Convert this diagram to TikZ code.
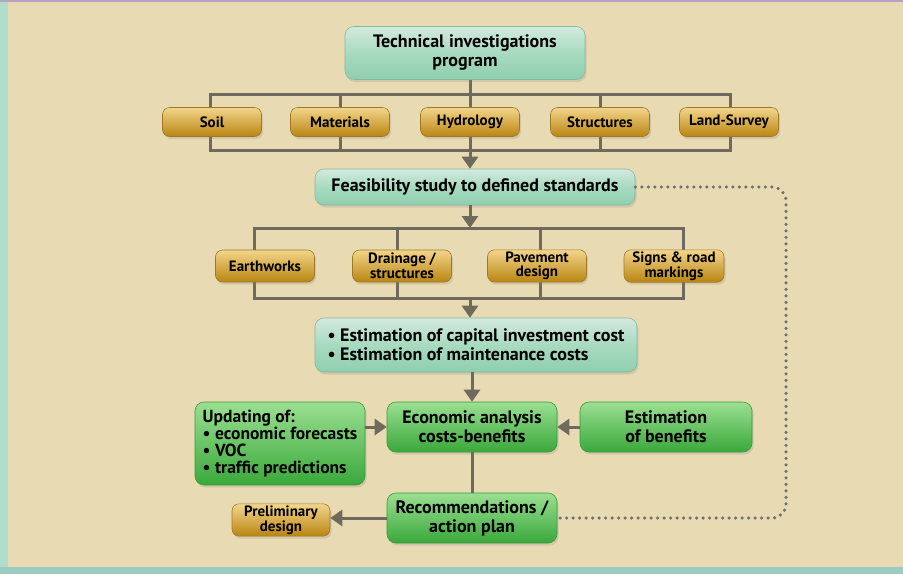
\documentclass[tikz,border=0pt]{standalone}
\usepackage{fontspec}
\setmainfont{PT Sans}
\usepackage{xcolor}
\usepackage{tikz}
\usetikzlibrary{arrows.meta,shadows}

\definecolor{paper}{HTML}{E8DBB4}
\definecolor{edgeteal}{HTML}{B0DECE}
\definecolor{footteal}{HTML}{9CCBBF}
\definecolor{toplilac}{HTML}{B8A0C0}
\definecolor{linegray}{HTML}{6E6A5E}
\definecolor{dotgray}{HTML}{706F6A}
\definecolor{tealtop}{HTML}{D3EADF}
\definecolor{tealmid}{HTML}{A8DABF}
\definecolor{tealbot}{HTML}{8FCFAE}
\definecolor{tealedge}{HTML}{86B8A0}
\definecolor{goldtop}{HTML}{F3D58A}
\definecolor{goldmid}{HTML}{D9A437}
\definecolor{goldbot}{HTML}{B98512}
\definecolor{goldedge}{HTML}{9C7A2A}
\definecolor{greentop}{HTML}{9BDF92}
\definecolor{greenmid}{HTML}{52BE4C}
\definecolor{greenbot}{HTML}{3AA83A}
\definecolor{greenedge}{HTML}{3A9A3A}

\tikzset{
  box/.style={rounded corners=9pt, font=\bfseries\fontsize{18}{19}\selectfont,
    align=center, inner sep=2pt, line width=0.6pt,
    drop shadow={opacity=0.22, shadow xshift=1.5pt, shadow yshift=-2.5pt}},
  tealbox/.style={box, top color=tealtop, bottom color=tealbot,
    middle color=tealmid, draw=tealedge},
  goldbox/.style={box, rounded corners=7pt, font=\bfseries\fontsize{15}{14.5}\selectfont,
    top color=goldtop, middle color=goldmid, bottom color=goldbot, draw=goldedge,
    minimum height=29pt, minimum width=99pt},
  greenbox/.style={box, top color=greentop, middle color=greenmid,
    bottom color=greenbot, draw=greenedge},
  frame/.style={draw=linegray, line width=3pt},
  arr/.style={linegray, line width=3pt, -{Triangle[width=16pt,length=12pt]}},
  dots/.style={dotgray, line width=3.5pt, line cap=round, dash pattern=on 0pt off 6.5pt,
    rounded corners=14pt}
}

\begin{document}
\begin{tikzpicture}[x=1pt,y=-1pt]
% Page background
\useasboundingbox (0,0) rectangle (903,574);
\fill[paper] (0,0) rectangle (903,574);
\fill[edgeteal] (0,0) rectangle (8,574);
\fill[footteal] (0,567) rectangle (903,574);
\fill[toplilac] (0,0) rectangle (903,1.5);

% Bracket frames (drawn first, boxes sit on them)
\draw[frame] (210,94) rectangle (730,150);
\foreach \x in {340,470,600} \draw[frame] (\x,94) -- (\x,150);
\draw[frame] (254,228) rectangle (683,298);
\foreach \x in {397,540} \draw[frame] (\x,228) -- (\x,298);
\coordinate (b1n) at (470,94);
\coordinate (b1s) at (470,150);
\coordinate (b2n) at (470,228);
\coordinate (b2s) at (470,298);

% Top program
\node[tealbox, minimum width=240pt, minimum height=53pt] (tech) at (465,53)
  {Technical investigations\\program};

% First row
\foreach \name/\x/\txt in {soil/212/Soil, mat/340/Materials, hyd/470/Hydrology,
    struct/600/Structures, land/729/Land-Survey}
  \node[goldbox] (\name) at (\x,122) {\txt};

% Feasibility study
\node[tealbox, minimum width=320pt, minimum height=36pt] (feas) at (475,187)
  {Feasibility study to defined standards};

% Second row
\node[goldbox, minimum height=32pt] (earth) at (265,266) {Earthworks};
\node[goldbox, minimum height=32pt] (drain) at (402,266) {Drainage /\\structures};
\node[goldbox, minimum height=32pt] (pave) at (537,266) {Pavement\\design};
\node[goldbox, minimum height=32pt, minimum width=100pt] (signs) at (674,266)
  {Signs \& road\\markings};

% Cost estimation
\node[tealbox, minimum width=322pt, minimum height=54pt, align=left] (est) at (476,345)
  {\textbullet\ Estimation of capital investment cost\\
   \textbullet\ Estimation of maintenance costs};

% Economic analysis row
\node[greenbox, minimum width=170pt, minimum height=50pt] (econ) at (472,427)
  {Economic analysis\\costs-benefits};
\node[greenbox, minimum width=170pt, minimum height=83pt, align=left,
  font=\bfseries\fontsize{17.5}{16.8}\selectfont] (upd) at (280,443.5)
  {Updating of:\\\textbullet\ economic forecasts\\\textbullet\ VOC\\
   \textbullet\ traffic predictions\hspace*{8pt}};
\node[greenbox, minimum width=172pt, minimum height=50pt] (benef) at (666,427)
  {Estimation\\of benefits};

% Recommendations
\node[greenbox, minimum width=170pt, minimum height=50pt] (recom) at (472,518)
  {Recommendations /\\action plan};
\node[goldbox, minimum width=98pt, minimum height=30pt] (prelim) at (281,520)
  {Preliminary\\design};

% Connectors
\draw[frame] (b1n |- tech.south) -- (b1n);
\draw[arr] (b1s) -- (b1s |- feas.north);
\draw[arr] (b2n |- feas.south) -- (b2n);
\draw[arr] (b2s) -- (b2s |- est.north);
\draw[arr] (econ.north |- est.south) -- (econ.north);
\draw[arr] (upd.east |- econ.west) -- (econ.west);
\draw[arr] (benef.west) -- (econ.east);
\draw[frame] (econ.south) -- (recom.north);
\draw[arr] (recom.west) -- (prelim.east |- recom.west);

% Feedback loop
\coordinate (loop) at (786,0);
\draw[dots] (feas.east) -| (loop |- recom.east) -- (recom.east);
\end{tikzpicture}
\end{document}
